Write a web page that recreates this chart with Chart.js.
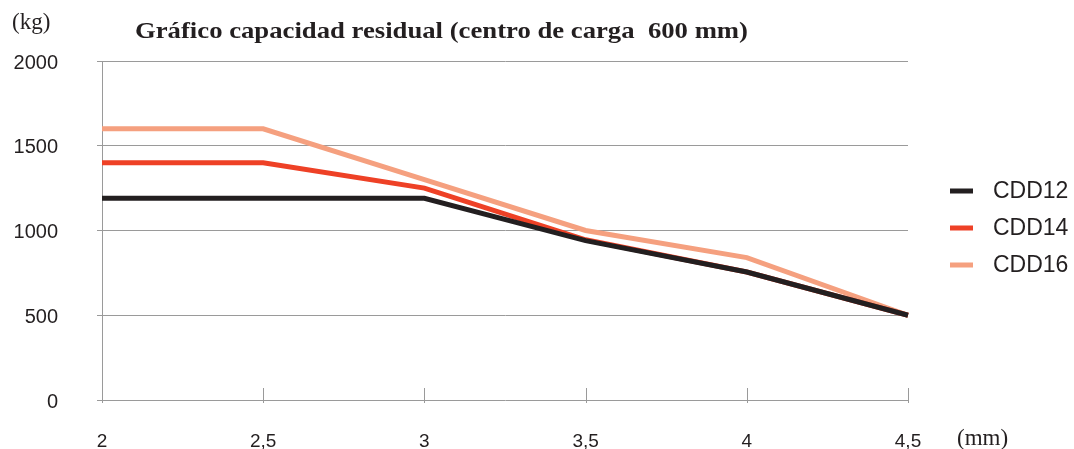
<!DOCTYPE html>
<html>
<head>
<meta charset="utf-8">
<script src="https://cdn.jsdelivr.net/npm/chart.js@4"></script>
<style>
  body { margin: 0; background: #fff; overflow: hidden; }
  #wrap { width: 1074px; height: 451px; position: relative; }
</style>
</head>
<body>
<div id="wrap"><canvas id="capacidadChart"></canvas></div>
<script>
// datos
const etiquetasX = ['2', '2,5', '3', '3,5', '4', '4,5'];
const cdd12 = [1190, 1190, 1190, 940, 755, 500];
const cdd14 = [1400, 1400, 1250, 945, 755, 500];
const cdd16 = [1600, 1600, 1300, 1000, 840, 500];
const ticksY = [0, 500, 1000, 1500, 2000];

const titulo = 'Gráfico capacidad residual (centro de carga  600 mm)';
const unidadY = '(kg)';
const unidadX = '(mm)';

const negro = '#231f20';
const gris = '#9a9a9a';

// textos, leyenda y marcas del eje X
const decoracion = {
    id: 'decoracion',
    afterDraw(chart) {
        const ctx = chart.ctx;
        const area = chart.chartArea;
        const x = chart.scales.x;
        ctx.save();

        // marcas del eje X
        ctx.strokeStyle = gris;
        ctx.lineWidth = 1;
        x.ticks.forEach((t, i) => {
            const px = Math.round(x.getPixelForTick(i)) + 0.5;
            ctx.beginPath();
            ctx.moveTo(px, area.bottom - 12);
            ctx.lineTo(px, area.bottom + 3);
            ctx.stroke();
        });

        ctx.fillStyle = negro;
        ctx.textBaseline = 'alphabetic';
        ctx.textAlign = 'left';

        // titulo ajustado al ancho del original
        ctx.font = 'bold 24px "Liberation Serif"';
        const w = ctx.measureText(titulo).width;
        ctx.save();
        ctx.translate(135, 38);
        ctx.scale(613 / w, 1);
        ctx.fillText(titulo, 0, 0);
        ctx.restore();

        ctx.font = '23px "Liberation Serif"';
        ctx.fillText(unidadY, 12, 29);
        ctx.fillText(unidadX, 957, 445);

        // leyenda
        ctx.font = '23px "Liberation Sans"';
        ctx.textBaseline = 'middle';
        chart.data.datasets.forEach((ds, i) => {
            const y = 191 + i * 37;
            ctx.fillStyle = ds.borderColor;
            ctx.fillRect(950, y - 2.5, 23, 5);
            ctx.fillStyle = negro;
            ctx.fillText(ds.label, 993, y + 1);
        });
        ctx.restore();
    }
};

new Chart(document.getElementById('capacidadChart'), {
    type: 'line',
    data: {
        labels: etiquetasX,
        datasets: [
            {label: 'CDD12', data: cdd12, borderColor: negro, backgroundColor: negro},
            {label: 'CDD14', data: cdd14, borderColor: '#ee4126', backgroundColor: '#ee4126'},
            {label: 'CDD16', data: cdd16, borderColor: '#f5a07f', backgroundColor: '#f5a07f'},
        ],
    },
    options: {
        responsive: true,
        maintainAspectRatio: false,
        animation: false,
        layout: {padding: {left: 12, top: 61, right: 166, bottom: 0}},
        elements: {
            line: {borderWidth: 5, tension: 0, borderJoinStyle: 'miter'},
            point: {radius: 0, hoverRadius: 0},
        },
        plugins: {legend: {display: false}, tooltip: {enabled: false}, title: {display: false}},
        scales: {
            x: {
                offset: false,
                afterFit: (s) => { s.height = 49; },
                grid: {display: true, drawOnChartArea: false, drawTicks: false},
                border: {display: false},
                ticks: {
                    color: negro,
                    padding: 30,
                    maxRotation: 0,
                    font: {family: 'Liberation Sans', size: 19},
                },
            },
            y: {
                min: 0,
                max: 2000,
                afterFit: (s) => { s.width = 90; },
                afterBuildTicks: (s) => { s.ticks = ticksY.map(v => ({value: v})); },
                grid: {color: gris, lineWidth: 1, tickLength: 5},
                border: {display: true, color: gris, width: 1},
                ticks: {
                    color: negro,
                    padding: 39,
                    labelOffset: 2,
                    callback: (v) => String(v),
                    font: {family: 'Liberation Sans', size: 20},
                },
            },
        },
    },
    plugins: [decoracion],
});
</script>
</body>
</html>
